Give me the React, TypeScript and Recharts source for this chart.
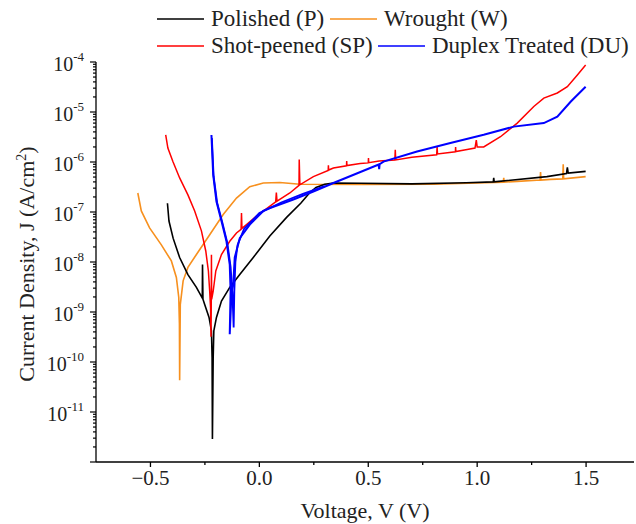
import React from "react";
import { LineChart, Line, XAxis, YAxis } from "recharts";

// [voltage (V), current density (A/cm2)]
const polished: [number, number][] = [
  [-0.422, 1.5e-7], [-0.415, 6.6e-8], [-0.396, 3.0e-8], [-0.366, 1.23e-8], [-0.328, 5.6e-9],
  [-0.289, 3.1e-9], [-0.265, 2.0e-9], [-0.262, 1.9e-9], [-0.261, 8.9e-9], [-0.259, 1.8e-9],
  [-0.251, 1.41e-9], [-0.231, 7.8e-10], [-0.22, 4.2e-10], [-0.217, 1.23e-10], [-0.2155, 2.9e-12],
  [-0.212, 1.23e-10], [-0.209, 4.2e-10], [-0.197, 7.8e-10], [-0.174, 1.66e-9], [-0.136, 3.1e-9],
  [-0.09, 5.6e-9], [-0.028, 1.23e-8], [0.048, 3.3e-8], [0.125, 7.8e-8], [0.19, 1.5e-7],
  [0.23, 2.4e-7], [0.26, 3.1e-7], [0.3, 3.6e-7], [0.34, 3.8e-7], [0.463, 3.75e-7],
  [0.7, 3.65e-7], [0.95, 3.85e-7], [1.074, 4.0e-7], [1.076, 4.8e-7], [1.078, 4.0e-7],
  [1.1, 4.1e-7], [1.32, 5.1e-7], [1.41, 5.9e-7], [1.414, 7.8e-7], [1.418, 6.0e-7],
  [1.498, 6.5e-7],
];

const wrought: [number, number][] = [
  [-0.558, 2.4e-7], [-0.542, 1.05e-7], [-0.504, 4.8e-8], [-0.45, 2.2e-8], [-0.404, 1.05e-8],
  [-0.381, 4.9e-9], [-0.37, 1.95e-9], [-0.367, 5.8e-10], [-0.366, 4.3e-11], [-0.363, 1.41e-9],
  [-0.35, 4.2e-9], [-0.328, 7.8e-9], [-0.289, 1.41e-8], [-0.228, 3.5e-8], [-0.166, 8.9e-8],
  [-0.105, 1.9e-7], [-0.044, 3.2e-7], [0.018, 3.8e-7], [0.094, 3.9e-7], [0.186, 3.6e-7],
  [0.463, 3.55e-7], [0.8, 3.6e-7], [1.0, 3.8e-7], [1.12, 3.95e-7], [1.122, 4.8e-7],
  [1.124, 3.95e-7], [1.184, 4.1e-7], [1.289, 4.35e-7], [1.291, 6.3e-7], [1.293, 4.35e-7],
  [1.337, 4.5e-7], [1.393, 4.6e-7], [1.395, 9.0e-7], [1.397, 4.6e-7], [1.498, 5.1e-7],
];

const shotPeened: [number, number][] = [
  [-0.43, 3.47e-6], [-0.42, 1.9e-6], [-0.397, 1.02e-6], [-0.366, 4.8e-7], [-0.328, 2.2e-7],
  [-0.297, 1.05e-7], [-0.266, 4.2e-8], [-0.246, 1.66e-8], [-0.234, 6.6e-9], [-0.228, 2.6e-9],
  [-0.224, 1.2e-9], [-0.222, 3.2e-10], [-0.221, 1.0e-9], [-0.22, 1.4e-8], [-0.219, 1.8e-9],
  [-0.212, 2.6e-9], [-0.2, 6.6e-9], [-0.174, 1.41e-8], [-0.136, 2.6e-8], [-0.105, 3.8e-8],
  [-0.084, 4.5e-8], [-0.082, 9.5e-8], [-0.08, 4.7e-8], [-0.059, 5.6e-8], [-0.013, 8.3e-8],
  [0.075, 1.6e-7], [0.078, 2.45e-7], [0.081, 1.65e-7], [0.14, 2.4e-7], [0.182, 3.4e-7],
  [0.183, 1.12e-6], [0.186, 3.5e-7], [0.248, 5.1e-7], [0.316, 6.8e-7], [0.317, 8.6e-7],
  [0.318, 6.9e-7], [0.34, 7.6e-7], [0.4, 8.4e-7], [0.401, 1.05e-6], [0.402, 8.5e-7],
  [0.463, 9.3e-7], [0.5, 9.6e-7], [0.501, 1.2e-6], [0.502, 9.7e-7],
  [0.55, 1.05e-6], [0.622, 1.1e-6], [0.624, 1.75e-6], [0.626, 1.1e-6], [0.7, 1.25e-6],
  [0.814, 1.4e-6], [0.816, 2.0e-6], [0.818, 1.45e-6], [0.9, 1.6e-6], [0.901, 2.0e-6],
  [0.902, 1.62e-6], [0.954, 1.78e-6], [0.99, 1.9e-6],
  [0.996, 2.75e-6], [1.0, 2.0e-6], [1.03, 2.0e-6], [1.107, 3.2e-6], [1.184, 6.0e-6],
  [1.26, 1.29e-5], [1.306, 1.9e-5], [1.368, 2.4e-5], [1.414, 3.2e-5], [1.46, 5.5e-5],
  [1.498, 8.7e-5],
];

const duplex: [number, number][] = [
  [-0.22, 3.47e-6], [-0.212, 5.6e-7], [-0.197, 1.62e-7], [-0.174, 6.6e-8], [-0.151, 2.6e-8],
  [-0.136, 8.9e-9], [-0.132, 2.6e-9], [-0.136, 3.6e-10], [-0.128, 2.4e-9], [-0.12, 3.5e-9],
  [-0.113, 1.23e-8], [-0.09, 3.0e-8], [-0.044, 5.6e-8], [0.018, 1.05e-7], [0.049, 1.2e-7],
  [0.156, 1.78e-7], [0.248, 2.57e-7], [0.34, 3.8e-7], [0.447, 5.9e-7], [0.548, 8.9e-7],
  [0.55, 7.2e-7], [0.552, 9.0e-7], [0.57, 1.02e-6],
  [0.724, 1.62e-6], [0.877, 2.4e-6], [1.03, 3.5e-6], [1.168, 5.1e-6], [1.306, 6.0e-6],
  [1.368, 8.1e-6], [1.43, 1.62e-5], [1.498, 3.2e-5],
];

// second sweep of the duplex sample, visible as a doubled line near its minimum
const duplexSweep2: [number, number][] = [
  [-0.218, 3.0e-6], [-0.21, 5.2e-7], [-0.194, 1.55e-7], [-0.17, 6.2e-8], [-0.147, 2.4e-8],
  [-0.132, 8.0e-9], [-0.124, 2.5e-9], [-0.118, 4.9e-10], [-0.115, 2.5e-9], [-0.11, 1.0e-8],
  [-0.1, 2.2e-8], [-0.07, 4.6e-8], [0.0, 9.5e-8], [0.1, 1.55e-7], [0.2, 2.3e-7], [0.3, 3.3e-7],
];

const xTicks = [-0.5, -0.25, 0, 0.25, 0.5, 0.75, 1, 1.25, 1.5];
const yDecades = [-12, -11, -10, -9, -8, -7, -6, -5, -4];

const legendItems = [
  { name: "Polished (P)", color: "#000000" },
  { name: "Wrought (W)", color: "#f7901e" },
  { name: "Shot-peened (SP)", color: "#ff0000" },
  { name: "Duplex Treated (DU)", color: "#0000ff" },
];

const FONT = '"Liberation Serif", "Times New Roman", serif';

const yTicks: number[] = [];
yDecades.forEach((k) => {
  if (k === -4) { yTicks.push(1e-4); return; }
  for (let m = 1; m <= 9; m++) yTicks.push(m * Math.pow(10, k));
});

const toPoints = (arr: [number, number][]) => arr.map(([v, j]) => ({ v, j }));

function XTick(props: any) {
  const { x, y, payload } = props;
  const major = Math.abs(payload.value * 2 - Math.round(payload.value * 2)) < 1e-6;
  const label = payload.value < 0 ? "\u2212" + Math.abs(payload.value).toFixed(1) : payload.value.toFixed(1);
  return (
    <g>
      <line x1={x} x2={x} y1={y} y2={y + (major ? 5 : 3)} stroke="#000" strokeWidth={1.3} />
      {major && (
        <text x={x} y={y + 23} textAnchor="middle" fontFamily={FONT} fontSize={21} fill="#222">{label}</text>
      )}
    </g>
  );
}

function YTick(props: any) {
  const { x, y, payload } = props;
  const lg = Math.log10(payload.value);
  const major = Math.abs(lg - Math.round(lg)) < 1e-6;
  const showLabel = major && Math.round(lg) !== -12;
  return (
    <g>
      <line x1={x - (major ? 6 : 3)} x2={x} y1={y} y2={y} stroke="#000" strokeWidth={1.2} />
      {showLabel && (
        <text x={x - 12} y={y + 9} textAnchor="end" fontFamily={FONT} fill="#222">
          <tspan fontSize={20}>10</tspan>
          <tspan fontSize={13} dy={-10}>{String(Math.round(lg))}</tspan>
        </text>
      )}
    </g>
  );
}

export default function App() {
  return (
    <div style={{ position: "absolute", left: 0, top: 0, width: 636, height: 524, background: "#fff" }}>
      <LineChart width={636} height={524} margin={{ top: 62, right: 2, bottom: 0, left: 0 }}>
        <XAxis
          dataKey="v" type="number" domain={[-0.75, 1.72]} allowDataOverflow ticks={xTicks}
          height={62} tickSize={0} tickMargin={0} tick={<XTick />} stroke="#000" strokeWidth={1.3}
        />
        <YAxis
          dataKey="j" type="number" scale="log" domain={[1e-12, 1e-4]} allowDataOverflow ticks={yTicks}
          width={96} tickSize={0} tickMargin={0} tick={<YTick />} interval={0} stroke="#000" strokeWidth={1.3}
        />
        <Line data={toPoints(wrought)} dataKey="j" stroke="#f7901e" strokeWidth={1.6} dot={false} isAnimationActive={false} />
        <Line data={toPoints(polished)} dataKey="j" stroke="#000000" strokeWidth={1.6} dot={false} isAnimationActive={false} />
        <Line data={toPoints(shotPeened)} dataKey="j" stroke="#ff0000" strokeWidth={1.5} dot={false} isAnimationActive={false} />
        <Line data={toPoints(duplex)} dataKey="j" stroke="#0000ff" strokeWidth={2} dot={false} isAnimationActive={false} />
        <Line data={toPoints(duplexSweep2)} dataKey="j" stroke="#0000ff" strokeWidth={1.8} dot={false} isAnimationActive={false} />
      </LineChart>
      <svg width={636} height={524} style={{ position: "absolute", left: 0, top: 0, pointerEvents: "none" }}>
        <g fontFamily={FONT} fontSize={23} fill="#222">
          {[
            { item: legendItems[0], lx: 157, ly: 19 },
            { item: legendItems[1], lx: 330, ly: 19 },
            { item: legendItems[2], lx: 157, ly: 46 },
            { item: legendItems[3], lx: 378, ly: 46 },
          ].map(({ item, lx, ly }) => (
            <g key={item.name}>
              <line x1={lx} x2={lx + 47} y1={ly} y2={ly} stroke={item.color} strokeWidth={1.6} />
              <text x={lx + 54} y={ly + 7}>{item.name}</text>
            </g>
          ))}
          <text x={365} y={518} textAnchor="middle" fontSize={22}>Voltage, V (V)</text>
          <text transform="translate(34,264) rotate(-90)" textAnchor="middle" fontSize={22}>
            Current Density, J (A/cm<tspan fontSize={14} dy={-8}>2</tspan><tspan dy={8}>)</tspan>
          </text>
        </g>
      </svg>
    </div>
  );
}
